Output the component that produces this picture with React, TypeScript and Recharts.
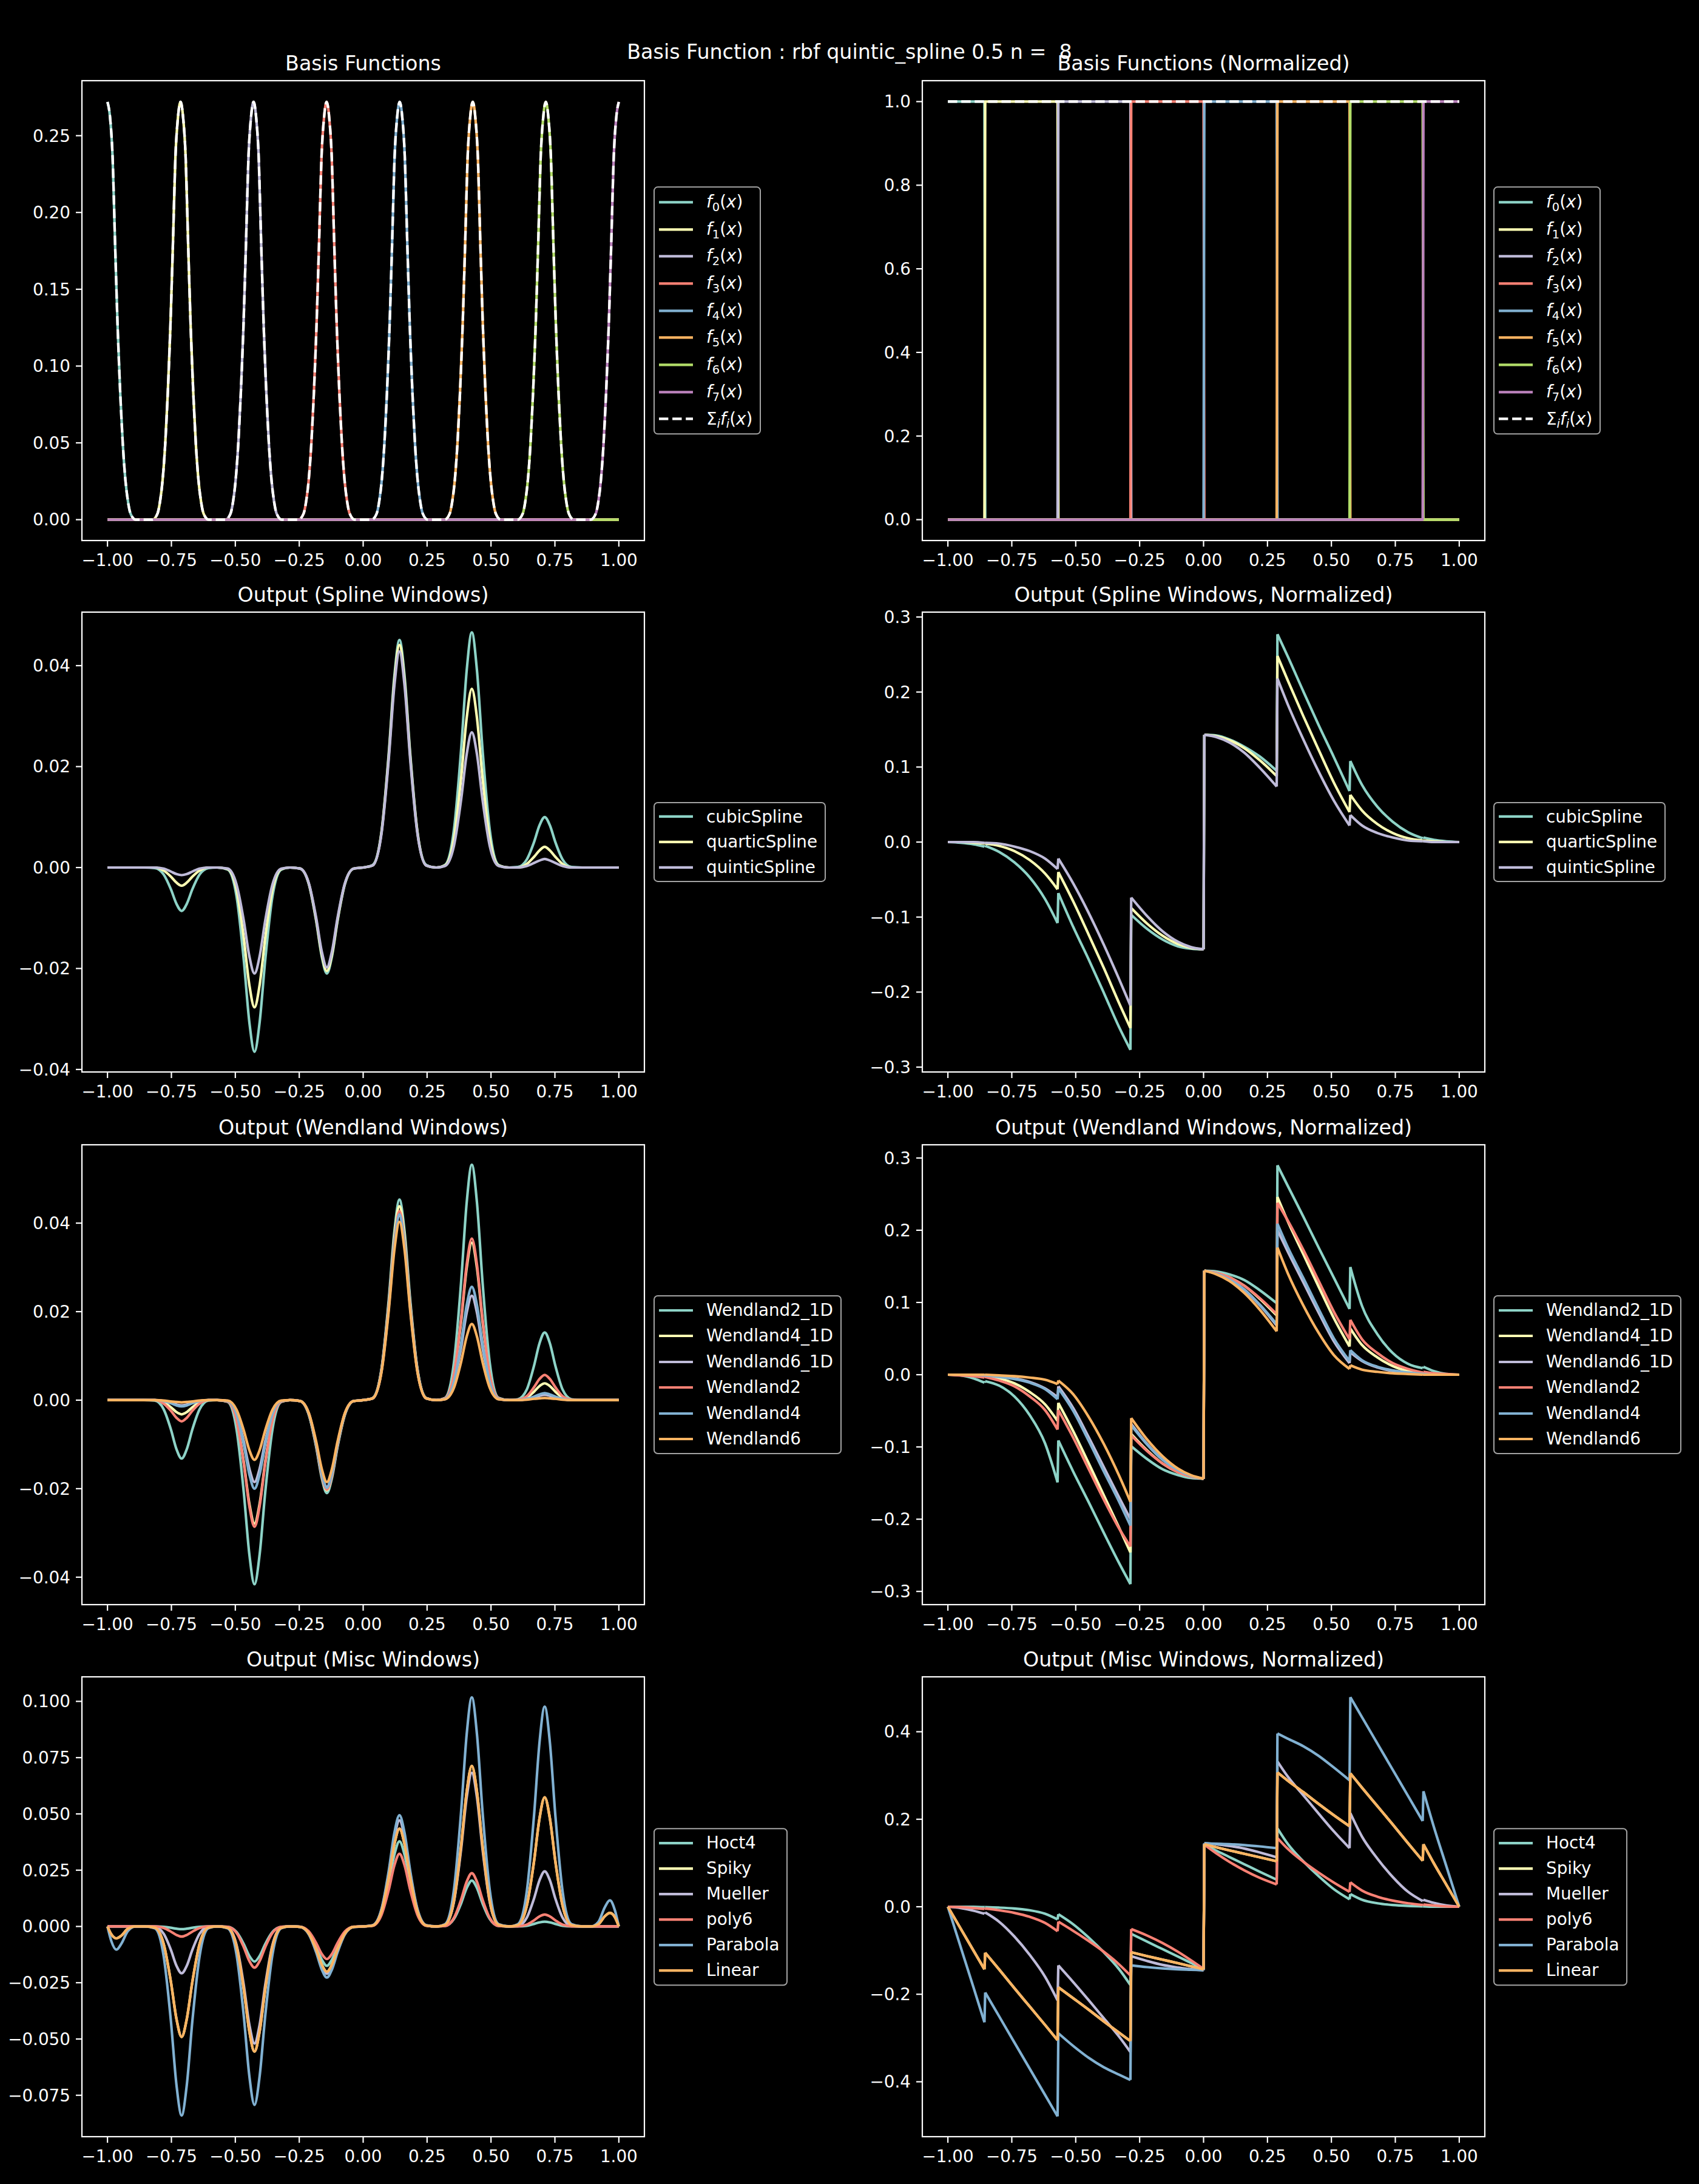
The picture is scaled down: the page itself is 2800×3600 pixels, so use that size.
import React from 'react';
import { LineChart, Line, XAxis, YAxis } from 'recharts';

const FONT = '"DejaVu Sans", "Liberation Sans", sans-serif';
const TICK_FS = 27.8;
const TITLE_FS = 33.3;
const LW = 4.2;
const colors = ['#8dd3c7', '#feffb3', '#bfbbd9', '#fa8174', '#81b1d2', '#fdb462', '#b3de69', '#bc82bd'];

// ---- axes ticks ----
const xTicks = [-1, -0.75, -0.5, -0.25, 0, 0.25, 0.5, 0.75, 1];
const xTickLabels = ['−1.00', '−0.75', '−0.50', '−0.25', '0.00', '0.25', '0.50', '0.75', '1.00'];

const basisTicks = [0, 0.05, 0.1, 0.15, 0.2, 0.25];
const basisTickLabels = ['0.00', '0.05', '0.10', '0.15', '0.20', '0.25'];
const unitTicks = [0, 0.2, 0.4, 0.6, 0.8, 1];
const unitTickLabels = ['0.0', '0.2', '0.4', '0.6', '0.8', '1.0'];
const smallTicks = [-0.04, -0.02, 0, 0.02, 0.04];
const smallTickLabels = ['−0.04', '−0.02', '0.00', '0.02', '0.04'];
const normTicks = [-0.3, -0.2, -0.1, 0, 0.1, 0.2, 0.3];
const normTickLabels = ['−0.3', '−0.2', '−0.1', '0.0', '0.1', '0.2', '0.3'];
const miscTicks = [-0.075, -0.05, -0.025, 0, 0.025, 0.05, 0.075, 0.1];
const miscTickLabels = ['−0.075', '−0.050', '−0.025', '0.000', '0.025', '0.050', '0.075', '0.100'];
const miscNormTicks = [-0.4, -0.2, 0, 0.2, 0.4];
const miscNormTickLabels = ['−0.4', '−0.2', '0.0', '0.2', '0.4'];

// ---- basis functions ----
const basisCenters = [-1, -0.7143, -0.4286, -0.1429, 0.1429, 0.4286, 0.7143, 1];
const basisOffsets = [-0.11, -0.09, -0.08, -0.07, -0.06, -0.05, -0.04, -0.03, -0.02, -0.01, 0,
  0.01, 0.02, 0.03, 0.04, 0.05, 0.06, 0.07, 0.08, 0.09, 0.11];
const basisProfile = [0, 0.004, 0.012, 0.026, 0.049, 0.082, 0.124, 0.178, 0.236, 0.262, 0.272,
  0.262, 0.236, 0.178, 0.124, 0.082, 0.049, 0.026, 0.012, 0.004, 0];

// ---- normalized grid (cells split at the midpoints) ----
const normXs = [
  -1, -0.95, -0.9, -0.857,
  -0.854, -0.8, -0.74, -0.68, -0.62, -0.571,
  -0.568, -0.51, -0.45, -0.39, -0.33, -0.286,
  -0.283, -0.22, -0.16, -0.1, -0.05, 0,
  0.003, 0.05, 0.1, 0.16, 0.22, 0.286,
  0.289, 0.33, 0.39, 0.45, 0.51, 0.571,
  0.574, 0.62, 0.68, 0.74, 0.8, 0.857,
  0.86, 0.9, 0.95, 1,
];
const normCells = [
  0, 0, 0, 0,
  1, 1, 1, 1, 1, 1,
  2, 2, 2, 2, 2, 2,
  3, 3, 3, 3, 3, 3,
  4, 4, 4, 4, 4, 4,
  5, 5, 5, 5, 5, 5,
  6, 6, 6, 6, 6, 6,
  7, 7, 7, 7,
];

// ---- output grid ----
const outXs = [
  -1, -0.985, -0.965, -0.945, -0.92, -0.89, -0.857,
  -0.815, -0.78, -0.752, -0.73, -0.71, -0.69, -0.668, -0.64, -0.605, -0.571,
  -0.53, -0.495, -0.467, -0.445, -0.425, -0.405, -0.383, -0.355, -0.32, -0.286,
  -0.247, -0.212, -0.184, -0.162, -0.142, -0.122, -0.1, -0.072, -0.037, 0,
  0.037, 0.072, 0.1, 0.122, 0.142, 0.162, 0.184, 0.212, 0.247, 0.286,
  0.32, 0.355, 0.383, 0.405, 0.425, 0.445, 0.467, 0.495, 0.53, 0.571,
  0.605, 0.64, 0.668, 0.69, 0.71, 0.73, 0.752, 0.78, 0.815, 0.857,
  0.89, 0.92, 0.945, 0.965, 0.985, 1,
];

// Spline windows
const cubicOut = [
  0, 0, 0, 0, 0, 0, 0,
  -0.0001, -0.0014, -0.0043, -0.0072, -0.0086, -0.0072, -0.0043, -0.0014, -0.0001, 0,
  -0.0004, -0.0058, -0.0183, -0.0307, -0.0365, -0.0307, -0.0183, -0.0058, -0.0004, 0,
  -0.0002, -0.0034, -0.0105, -0.0176, -0.021, -0.0176, -0.0105, -0.0034, -0.0002, 0,
  0.0005, 0.0072, 0.0226, 0.0379, 0.0451, 0.0379, 0.0226, 0.0072, 0.0005, 0,
  0.0005, 0.0075, 0.0233, 0.0391, 0.0466, 0.0391, 0.0233, 0.0075, 0.0005, 0,
  0.0001, 0.0016, 0.005, 0.0084, 0.01, 0.0084, 0.005, 0.0016, 0.0001, 0,
  0, 0, 0, 0, 0, 0,
];
const quarticOut = [
  0, 0, 0, 0, 0, 0, 0,
  0, -0.0006, -0.0018, -0.003, -0.0036, -0.003, -0.0018, -0.0006, 0, 0,
  -0.0003, -0.0044, -0.0139, -0.0233, -0.0277, -0.0233, -0.0139, -0.0044, -0.0003, 0,
  -0.0002, -0.0033, -0.0103, -0.0172, -0.0205, -0.0172, -0.0103, -0.0033, -0.0002, 0,
  0.0004, 0.0071, 0.0221, 0.037, 0.0441, 0.037, 0.0221, 0.0071, 0.0004, 0,
  0.0004, 0.0057, 0.0177, 0.0297, 0.0354, 0.0297, 0.0177, 0.0057, 0.0004, 0,
  0, 0.0007, 0.0021, 0.0034, 0.0041, 0.0034, 0.0021, 0.0007, 0, 0,
  0, 0, 0, 0, 0, 0,
];
const quinticOut = [
  0, 0, 0, 0, 0, 0, 0,
  0, -0.0002, -0.0008, -0.0013, -0.0015, -0.0013, -0.0008, -0.0002, 0, 0,
  -0.0002, -0.0034, -0.0105, -0.0176, -0.021, -0.0176, -0.0105, -0.0034, -0.0002, 0,
  -0.0002, -0.0032, -0.0099, -0.0166, -0.0198, -0.0166, -0.0099, -0.0032, -0.0002, 0,
  0.0004, 0.0068, 0.0214, 0.036, 0.0428, 0.036, 0.0214, 0.0068, 0.0004, 0,
  0.0003, 0.0043, 0.0134, 0.0225, 0.0268, 0.0225, 0.0134, 0.0043, 0.0003, 0,
  0, 0.0003, 0.0009, 0.0014, 0.0017, 0.0014, 0.0009, 0.0003, 0, 0,
  0, 0, 0, 0, 0, 0,
];

// Wendland windows
const w2dOut = [
  0, 0, 0, 0, 0, 0, 0,
  -0.0001, -0.0021, -0.0066, -0.0111, -0.0132, -0.0111, -0.0066, -0.0021, -0.0001, 0,
  -0.0004, -0.0067, -0.0208, -0.0349, -0.0416, -0.0349, -0.0208, -0.0067, -0.0004, 0,
  -0.0002, -0.0034, -0.0105, -0.0176, -0.021, -0.0176, -0.0105, -0.0034, -0.0002, 0,
  0.0005, 0.0072, 0.0227, 0.0381, 0.0453, 0.0381, 0.0227, 0.0072, 0.0005, 0,
  0.0005, 0.0085, 0.0266, 0.0447, 0.0532, 0.0447, 0.0266, 0.0085, 0.0005, 0,
  0.0002, 0.0024, 0.0077, 0.0129, 0.0153, 0.0129, 0.0077, 0.0024, 0.0002, 0,
  0, 0, 0, 0, 0, 0,
];
const w4dOut = [
  0, 0, 0, 0, 0, 0, 0,
  0, -0.0005, -0.0016, -0.0027, -0.0032, -0.0027, -0.0016, -0.0005, 0, 0,
  -0.0003, -0.0045, -0.014, -0.0234, -0.0279, -0.0234, -0.014, -0.0045, -0.0003, 0,
  -0.0002, -0.0033, -0.0102, -0.0171, -0.0204, -0.0171, -0.0102, -0.0033, -0.0002, 0,
  0.0004, 0.007, 0.0219, 0.0368, 0.0438, 0.0368, 0.0219, 0.007, 0.0004, 0,
  0.0004, 0.0057, 0.0178, 0.0299, 0.0356, 0.0299, 0.0178, 0.0057, 0.0004, 0,
  0, 0.0006, 0.0019, 0.0032, 0.0038, 0.0032, 0.0019, 0.0006, 0, 0,
  0, 0, 0, 0, 0, 0,
];
const w6dOut = [
  0, 0, 0, 0, 0, 0, 0,
  0, -0.0002, -0.0006, -0.001, -0.0012, -0.001, -0.0006, -0.0002, 0, 0,
  -0.0002, -0.003, -0.0093, -0.0155, -0.0185, -0.0155, -0.0093, -0.003, -0.0002, 0,
  -0.0002, -0.0031, -0.0098, -0.0165, -0.0196, -0.0165, -0.0098, -0.0031, -0.0002, 0,
  0.0004, 0.0067, 0.0209, 0.035, 0.0417, 0.035, 0.0209, 0.0067, 0.0004, 0,
  0.0002, 0.0038, 0.0118, 0.0198, 0.0236, 0.0198, 0.0118, 0.0038, 0.0002, 0,
  0, 0.0002, 0.0006, 0.001, 0.0012, 0.001, 0.0006, 0.0002, 0, 0,
  0, 0, 0, 0, 0, 0,
];
const w2Out = [
  0, 0, 0, 0, 0, 0, 0,
  0, -0.0008, -0.0024, -0.004, -0.0048, -0.004, -0.0024, -0.0008, 0, 0,
  -0.0003, -0.0046, -0.0143, -0.024, -0.0286, -0.024, -0.0143, -0.0046, -0.0003, 0,
  -0.0002, -0.0032, -0.0101, -0.017, -0.0202, -0.017, -0.0101, -0.0032, -0.0002, 0,
  0.0004, 0.0068, 0.0214, 0.0359, 0.0427, 0.0359, 0.0214, 0.0068, 0.0004, 0,
  0.0004, 0.0058, 0.0183, 0.0307, 0.0365, 0.0307, 0.0183, 0.0058, 0.0004, 0,
  0.0001, 0.0009, 0.0029, 0.0048, 0.0057, 0.0048, 0.0029, 0.0009, 0.0001, 0,
  0, 0, 0, 0, 0, 0,
];
const w4Out = [
  0, 0, 0, 0, 0, 0, 0,
  0, -0.0002, -0.0007, -0.0012, -0.0014, -0.0012, -0.0007, -0.0002, 0, 0,
  -0.0002, -0.0032, -0.01, -0.0168, -0.02, -0.0168, -0.01, -0.0032, -0.0002, 0,
  -0.0002, -0.0032, -0.0099, -0.0166, -0.0198, -0.0166, -0.0099, -0.0032, -0.0002, 0,
  0.0004, 0.0067, 0.021, 0.0353, 0.042, 0.0353, 0.021, 0.0067, 0.0004, 0,
  0.0003, 0.0041, 0.0128, 0.0215, 0.0256, 0.0215, 0.0128, 0.0041, 0.0003, 0,
  0, 0.0003, 0.0008, 0.0013, 0.0016, 0.0013, 0.0008, 0.0003, 0, 0,
  0, 0, 0, 0, 0, 0,
];
const w6Out = [
  0, 0, 0, 0, 0, 0, 0,
  0, -0.0001, -0.0003, -0.0004, -0.0005, -0.0004, -0.0003, -0.0001, 0, 0,
  -0.0001, -0.0022, -0.0068, -0.0113, -0.0135, -0.0113, -0.0068, -0.0022, -0.0001, 0,
  -0.0002, -0.003, -0.0093, -0.0155, -0.0185, -0.0155, -0.0093, -0.003, -0.0002, 0,
  0.0004, 0.0064, 0.0202, 0.0339, 0.0403, 0.0339, 0.0202, 0.0064, 0.0004, 0,
  0.0002, 0.0028, 0.0086, 0.0144, 0.0172, 0.0144, 0.0086, 0.0028, 0.0002, 0,
  0, 0.0001, 0.0003, 0.0004, 0.0005, 0.0004, 0.0003, 0.0001, 0, 0,
  0, 0, 0, 0, 0, 0,
];

// Misc windows
const hoct4Out = [
  0, 0, 0, 0, 0, 0, 0,
  0, -0.0002, -0.0006, -0.001, -0.0012, -0.001, -0.0006, -0.0002, 0, 0,
  -0.0002, -0.0025, -0.0078, -0.0131, -0.0156, -0.0131, -0.0078, -0.0025, -0.0002, 0,
  -0.0002, -0.0028, -0.0088, -0.0147, -0.0175, -0.0147, -0.0088, -0.0028, -0.0002, 0,
  0.0004, 0.006, 0.0189, 0.0318, 0.0378, 0.0318, 0.0189, 0.006, 0.0004, 0,
  0.0002, 0.0033, 0.0102, 0.0171, 0.0204, 0.0171, 0.0102, 0.0033, 0.0002, 0,
  0, 0.0003, 0.0011, 0.0018, 0.0021, 0.0018, 0.0011, 0.0003, 0, 0,
  0, 0, 0, 0, 0, 0,
];
const linearOut = [
  0, -0.0035, -0.0053, -0.004, -0.001, 0, 0,
  -0.0005, -0.0079, -0.0246, -0.0412, -0.0491, -0.0412, -0.0246, -0.0079, -0.0005, 0,
  -0.0006, -0.0089, -0.0278, -0.0467, -0.0556, -0.0467, -0.0278, -0.0089, -0.0006, 0,
  -0.0002, -0.0032, -0.0101, -0.0169, -0.0201, -0.0169, -0.0101, -0.0032, -0.0002, 0,
  0.0004, 0.0069, 0.0217, 0.0365, 0.0434, 0.0365, 0.0217, 0.0069, 0.0004, 0,
  0.0007, 0.0114, 0.0357, 0.0599, 0.0713, 0.0599, 0.0357, 0.0114, 0.0007, 0,
  0.0006, 0.0092, 0.0287, 0.0482, 0.0574, 0.0482, 0.0287, 0.0092, 0.0006, 0,
  0, 0.001, 0.0045, 0.006, 0.004, 0,
];
const spikyOut = linearOut; // hidden under Linear in the picture
const muellerOut = [
  0, 0, 0, 0, 0, 0, 0,
  -0.0002, -0.0033, -0.0104, -0.0175, -0.0208, -0.0175, -0.0104, -0.0033, -0.0002, 0,
  -0.0005, -0.0083, -0.026, -0.0437, -0.052, -0.0437, -0.026, -0.0083, -0.0005, 0,
  -0.0002, -0.0034, -0.0105, -0.0176, -0.021, -0.0176, -0.0105, -0.0034, -0.0002, 0,
  0.0005, 0.0075, 0.0236, 0.0396, 0.0471, 0.0396, 0.0236, 0.0075, 0.0005, 0,
  0.0007, 0.0109, 0.0342, 0.0574, 0.0683, 0.0574, 0.0342, 0.0109, 0.0007, 0,
  0.0002, 0.0039, 0.0123, 0.0206, 0.0245, 0.0206, 0.0123, 0.0039, 0.0002, 0,
  0, 0, 0, 0, 0, 0,
];
const poly6Out = [
  0, 0, 0, 0, 0, 0, 0,
  0, -0.0007, -0.0023, -0.0038, -0.0045, -0.0038, -0.0023, -0.0007, 0, 0,
  -0.0002, -0.0029, -0.0092, -0.0154, -0.0183, -0.0154, -0.0092, -0.0029, -0.0002, 0,
  -0.0001, -0.0023, -0.0073, -0.0122, -0.0145, -0.0122, -0.0073, -0.0023, -0.0001, 0,
  0.0003, 0.0052, 0.0162, 0.0271, 0.0323, 0.0271, 0.0162, 0.0052, 0.0003, 0,
  0.0002, 0.0038, 0.0119, 0.0199, 0.0237, 0.0199, 0.0119, 0.0038, 0.0002, 0,
  0.0001, 0.0008, 0.0027, 0.0045, 0.0053, 0.0045, 0.0027, 0.0008, 0.0001, 0,
  0, 0, 0, 0, 0, 0,
];
const parabolaOut = [
  0, -0.0065, -0.0103, -0.0075, -0.002, 0, 0,
  -0.0008, -0.0134, -0.042, -0.0706, -0.084, -0.0706, -0.042, -0.0134, -0.0008, 0,
  -0.0008, -0.0127, -0.0397, -0.0666, -0.0793, -0.0666, -0.0397, -0.0127, -0.0008, 0,
  -0.0002, -0.0036, -0.0114, -0.0191, -0.0227, -0.0191, -0.0114, -0.0036, -0.0002, 0,
  0.0005, 0.0079, 0.0247, 0.0415, 0.0494, 0.0415, 0.0247, 0.0079, 0.0005, 0,
  0.001, 0.0163, 0.0509, 0.0855, 0.1018, 0.0855, 0.0509, 0.0163, 0.001, 0,
  0.001, 0.0156, 0.0489, 0.0821, 0.0977, 0.0821, 0.0489, 0.0156, 0.001, 0,
  0, 0.002, 0.0085, 0.0116, 0.007, 0,
];

// ---- normalized outputs (on normXs) ----
const cubicNorm = [
  0, -0.001, -0.003, -0.006,
  -0.005, -0.013, -0.027, -0.047, -0.076, -0.108,
  -0.068, -0.113, -0.156, -0.201, -0.247, -0.277,
  -0.097, -0.116, -0.13, -0.139, -0.142, -0.143,
  0.143, 0.142, 0.137, 0.127, 0.114, 0.095,
  0.277, 0.247, 0.201, 0.156, 0.113, 0.068,
  0.108, 0.076, 0.047, 0.027, 0.013, 0.005,
  0.006, 0.003, 0.001, 0,
];
const quarticNorm = [
  0, 0, -0.001, -0.002,
  -0.002, -0.005, -0.012, -0.024, -0.042, -0.063,
  -0.04, -0.079, -0.123, -0.168, -0.215, -0.248,
  -0.088, -0.109, -0.125, -0.136, -0.141, -0.143,
  0.143, 0.141, 0.136, 0.125, 0.109, 0.088,
  0.248, 0.215, 0.168, 0.123, 0.079, 0.04,
  0.063, 0.042, 0.024, 0.012, 0.005, 0.002,
  0.002, 0.001, 0, 0,
];
const quinticNorm = [
  0, 0, 0, -0.001,
  -0.001, -0.002, -0.006, -0.012, -0.022, -0.036,
  -0.022, -0.055, -0.094, -0.137, -0.183, -0.218,
  -0.074, -0.099, -0.119, -0.133, -0.14, -0.143,
  0.143, 0.14, 0.133, 0.119, 0.099, 0.074,
  0.218, 0.183, 0.137, 0.094, 0.055, 0.022,
  0.036, 0.022, 0.012, 0.006, 0.002, 0.001,
  0.001, 0, 0, 0,
];

const w2dNorm = [
  0, -0.001, -0.005, -0.011,
  -0.009, -0.015, -0.03, -0.056, -0.095, -0.149,
  -0.091, -0.134, -0.176, -0.219, -0.261, -0.29,
  -0.099, -0.117, -0.131, -0.139, -0.143, -0.144,
  0.144, 0.143, 0.139, 0.131, 0.117, 0.099,
  0.29, 0.261, 0.219, 0.176, 0.134, 0.091,
  0.149, 0.095, 0.056, 0.03, 0.015, 0.009,
  0.011, 0.005, 0.001, 0,
];
const w4dNorm = [
  0, 0, -0.001, -0.002,
  -0.002, -0.005, -0.012, -0.024, -0.041, -0.064,
  -0.039, -0.078, -0.122, -0.167, -0.212, -0.246,
  -0.082, -0.105, -0.123, -0.135, -0.141, -0.144,
  0.144, 0.141, 0.135, 0.123, 0.105, 0.082,
  0.246, 0.212, 0.167, 0.122, 0.078, 0.039,
  0.064, 0.041, 0.024, 0.012, 0.005, 0.002,
  0.002, 0.001, 0, 0,
];
const w6dNorm = [
  0, 0, 0, -0.001,
  -0.001, -0.002, -0.005, -0.01, -0.019, -0.031,
  -0.016, -0.046, -0.086, -0.128, -0.17, -0.2,
  -0.068, -0.096, -0.117, -0.132, -0.14, -0.144,
  0.144, 0.14, 0.132, 0.117, 0.096, 0.068,
  0.2, 0.17, 0.128, 0.086, 0.046, 0.016,
  0.031, 0.019, 0.01, 0.005, 0.002, 0.001,
  0.001, 0, 0, 0,
];
const w2Norm = [
  0, -0.001, -0.002, -0.004,
  -0.003, -0.008, -0.016, -0.03, -0.049, -0.076,
  -0.049, -0.087, -0.13, -0.173, -0.213, -0.238,
  -0.084, -0.106, -0.123, -0.135, -0.141, -0.144,
  0.144, 0.141, 0.135, 0.123, 0.106, 0.084,
  0.238, 0.213, 0.173, 0.13, 0.087, 0.049,
  0.076, 0.049, 0.03, 0.016, 0.008, 0.003,
  0.004, 0.002, 0.001, 0,
];
const w4Norm = [
  0, 0, 0, -0.001,
  -0.001, -0.003, -0.006, -0.011, -0.02, -0.034,
  -0.019, -0.05, -0.091, -0.134, -0.176, -0.209,
  -0.07, -0.097, -0.118, -0.132, -0.14, -0.144,
  0.144, 0.14, 0.132, 0.118, 0.097, 0.07,
  0.209, 0.176, 0.134, 0.091, 0.05, 0.019,
  0.034, 0.02, 0.011, 0.006, 0.003, 0.001,
  0.001, 0, 0, 0,
];
const w6Norm = [
  0, 0, 0, 0,
  0, -0.001, -0.002, -0.004, -0.007, -0.013,
  -0.008, -0.027, -0.058, -0.096, -0.14, -0.176,
  -0.06, -0.09, -0.113, -0.13, -0.139, -0.144,
  0.144, 0.139, 0.13, 0.113, 0.09, 0.06,
  0.176, 0.14, 0.096, 0.058, 0.027, 0.008,
  0.013, 0.007, 0.004, 0.002, 0.001, 0,
  0, 0, 0, 0,
];

const hoct4Norm = [
  0, 0, 0, -0.001,
  -0.001, -0.002, -0.004, -0.008, -0.016, -0.029,
  -0.017, -0.04, -0.07, -0.104, -0.143, -0.179,
  -0.062, -0.08, -0.097, -0.114, -0.128, -0.142,
  0.142, 0.128, 0.114, 0.097, 0.08, 0.062,
  0.179, 0.143, 0.104, 0.07, 0.04, 0.017,
  0.029, 0.016, 0.008, 0.004, 0.002, 0.001,
  0.001, 0, 0, 0,
];
const linearNorm = [
  0, -0.05, -0.1, -0.143,
  -0.105, -0.143, -0.186, -0.228, -0.27, -0.305,
  -0.184, -0.209, -0.235, -0.262, -0.288, -0.307,
  -0.104, -0.113, -0.121, -0.129, -0.136, -0.143,
  0.143, 0.136, 0.129, 0.121, 0.113, 0.104,
  0.307, 0.288, 0.262, 0.235, 0.209, 0.184,
  0.305, 0.272, 0.23, 0.188, 0.145, 0.105,
  0.143, 0.1, 0.05, 0,
];
const spikyNorm = linearNorm; // hidden under Linear in the picture
const muellerNorm = [
  0, -0.003, -0.009, -0.016,
  -0.013, -0.034, -0.068, -0.11, -0.16, -0.214,
  -0.134, -0.172, -0.213, -0.255, -0.297, -0.332,
  -0.113, -0.124, -0.133, -0.139, -0.143, -0.145,
  0.145, 0.143, 0.139, 0.133, 0.124, 0.113,
  0.332, 0.297, 0.255, 0.213, 0.172, 0.134,
  0.214, 0.16, 0.11, 0.068, 0.034, 0.013,
  0.016, 0.009, 0.003, 0,
];
const poly6Norm = [
  0, -0.001, -0.003, -0.005,
  -0.004, -0.008, -0.014, -0.023, -0.037, -0.056,
  -0.034, -0.055, -0.078, -0.103, -0.132, -0.157,
  -0.051, -0.066, -0.083, -0.103, -0.122, -0.142,
  0.142, 0.122, 0.103, 0.083, 0.066, 0.051,
  0.157, 0.132, 0.103, 0.078, 0.055, 0.034,
  0.056, 0.037, 0.023, 0.014, 0.008, 0.004,
  0.005, 0.003, 0.001, 0,
];
const parabolaNorm = [
  0, -0.092, -0.184, -0.264,
  -0.196, -0.25, -0.31, -0.37, -0.43, -0.479,
  -0.289, -0.318, -0.345, -0.367, -0.384, -0.396,
  -0.134, -0.138, -0.141, -0.143, -0.144, -0.145,
  0.145, 0.144, 0.143, 0.141, 0.138, 0.134,
  0.396, 0.384, 0.367, 0.345, 0.318, 0.289,
  0.479, 0.433, 0.373, 0.313, 0.253, 0.196,
  0.264, 0.184, 0.092, 0,
];

// ---- legend labels ----
const splineNames = ['cubicSpline', 'quarticSpline', 'quinticSpline'];
const wendlandNames = ['Wendland2_1D', 'Wendland4_1D', 'Wendland6_1D', 'Wendland2', 'Wendland4', 'Wendland6'];
const miscNames = ['Hoct4', 'Spiky', 'Mueller', 'poly6', 'Parabola', 'Linear'];

// ---- tables ----
type Row = Record<string, number | null>;
type LineSpec = { key: string; color: string; curve: 'monotone' | 'linear'; dashed?: boolean };
type LegendItem = { label: React.ReactNode; color: string; dashed?: boolean };

function basisTable(): Row[] {
  const rows: Row[] = [];
  basisCenters.forEach((c, k) => {
    basisOffsets.forEach((o, j) => {
      const x = Math.round((c + o) * 10000) / 10000;
      if (x < -1.00001 || x > 1.00001) return;
      const row: Row = { x };
      basisCenters.forEach((_, i) => { row['f' + i] = i === k ? basisProfile[j] : 0; });
      rows.push(row);
    });
  });
  rows.sort((a, b) => (a.x as number) - (b.x as number));
  rows.forEach((r) => { r.s = basisCenters.reduce((acc, _, i) => acc + (r['f' + i] as number), 0); });
  return rows;
}

function normBasisTable(): Row[] {
  return normXs.map((x, i) => {
    const row: Row = { x };
    basisCenters.forEach((_, k) => { row['f' + k] = normCells[i] === k ? 1 : 0; });
    row.s = basisCenters.reduce((acc, _, k) => acc + (row['f' + k] as number), 0);
    return row;
  });
}

function outTable(series: number[][]): Row[] {
  return outXs.map((x, i) => {
    const row: Row = { x };
    series.forEach((vals, k) => { row['s' + k] = vals[i]; });
    return row;
  });
}

// each cell is its own smooth piece; the jumps at the cell borders are straight segments
function normTable(series: number[][]): Row[] {
  return normXs.map((x, i) => {
    const row: Row = { x };
    const cell = normCells[i];
    const edge = (i > 0 && normCells[i - 1] !== cell) || (i + 1 < normXs.length && normCells[i + 1] !== cell);
    series.forEach((vals, k) => {
      row['s' + k + 'e'] = cell % 2 === 0 ? vals[i] : null;
      row['s' + k + 'o'] = cell % 2 === 1 ? vals[i] : null;
      row['s' + k + 'j'] = edge ? vals[i] : null;
    });
    return row;
  });
}

function outLines(n: number): LineSpec[] {
  return Array.from({ length: n }, (_, k) => ({ key: 's' + k, color: colors[k], curve: 'monotone' as const }));
}

function normLines(n: number): LineSpec[] {
  const out: LineSpec[] = [];
  for (let k = 0; k < n; k++) {
    out.push({ key: 's' + k + 'e', color: colors[k], curve: 'monotone' });
    out.push({ key: 's' + k + 'o', color: colors[k], curve: 'monotone' });
    out.push({ key: 's' + k + 'j', color: colors[k], curve: 'linear' });
  }
  return out;
}

const basisLines: LineSpec[] = [
  ...basisCenters.map((_, k) => ({ key: 'f' + k, color: colors[k], curve: 'monotone' as const })),
  { key: 's', color: '#ffffff', curve: 'monotone', dashed: true },
];
const normBasisLines: LineSpec[] = [
  ...basisCenters.map((_, k) => ({ key: 'f' + k, color: colors[k], curve: 'linear' as const })),
  { key: 's', color: '#ffffff', curve: 'linear', dashed: true },
];

const mathStyle: React.CSSProperties = { fontStyle: 'italic' };
const subStyle: React.CSSProperties = { fontSize: '0.7em', position: 'relative', top: '0.3em' };
const basisLegend: LegendItem[] = [
  ...basisCenters.map((_, k) => ({
    label: (
      <span>
        <span style={mathStyle}>f</span>
        <span style={subStyle}>{k}</span>(<span style={mathStyle}>x</span>)
      </span>
    ),
    color: colors[k],
  })),
  {
    label: (
      <span>
        Σ<span style={{ ...subStyle, fontStyle: 'italic' }}>i</span>
        <span style={mathStyle}>f</span>
        <span style={{ ...subStyle, fontStyle: 'italic' }}>i</span>(<span style={mathStyle}>x</span>)
      </span>
    ),
    color: '#ffffff',
    dashed: true,
  },
];
const namedLegend = (names: string[]): LegendItem[] => names.map((n, k) => ({ label: n, color: colors[k] }));

// ---- layout ----
const PAGE_W = 2800;
const PAGE_H = 3600;
const colLeft = [0, 1400];
const plotLeft = [135, 1520];
const plotW = 927;
const rowTop = [133, 1009, 1887, 2764];
const plotH = 758;
const legendLeft = [1077, 2461];

function tickText(ticks: number[], labels: string[]) {
  return (v: number) => {
    const i = ticks.findIndex((t) => Math.abs(t - v) < 1e-9);
    return i >= 0 ? labels[i] : String(v);
  };
}

function LegendBox({ items, left, centerY, rowH }: { items: LegendItem[]; left: number; centerY: number; rowH: number }) {
  return (
    <div
      style={{
        position: 'absolute', left, top: centerY, transform: 'translateY(-50%)',
        border: '2.8px solid #a3a3a3', borderRadius: 7, background: '#000',
        padding: '8.5px 12px 8.5px 7px', fontFamily: FONT, fontSize: TICK_FS, color: '#fff',
      }}
    >
      {items.map((it, i) => (
        <div key={i} style={{ display: 'flex', alignItems: 'center', height: rowH, marginTop: i ? 13.9 : 0 }}>
          <svg width={56} height={12} style={{ flex: 'none' }}>
            <line x1={0} x2={56} y1={6} y2={6} stroke={it.color} strokeWidth={LW} strokeDasharray={it.dashed ? '15.4 6.7' : undefined} />
          </svg>
          <span style={{ marginLeft: 22, whiteSpace: 'nowrap', lineHeight: 1 }}>{it.label}</span>
        </div>
      ))}
    </div>
  );
}

type PanelProps = {
  col: number; row: number; data: Row[]; lines: LineSpec[];
  yDomain: [number, number]; yTicks: number[]; yLabels: string[];
  legend: LegendItem[]; legendRowH: number;
};

function Panel({ col, row, data, lines, yDomain, yTicks, yLabels, legend, legendRowH }: PanelProps) {
  const yw = plotLeft[col] - colLeft[col];
  const right = 1400 - yw - plotW;
  const tickStyle = { fill: '#ffffff', fontSize: TICK_FS, fontFamily: FONT };
  const tickLine = { stroke: '#ffffff', strokeWidth: 2.2 };
  return (
    <>
      <div style={{ position: 'absolute', left: colLeft[col], top: rowTop[row] - 10 }}>
        <LineChart width={1400} height={10 + plotH + 80} data={data} margin={{ top: 10, right, bottom: 0, left: 0 }}>
          <XAxis
            dataKey="x" type="number" domain={[-1.1, 1.1]} allowDataOverflow ticks={xTicks} interval={0}
            tickFormatter={tickText(xTicks, xTickLabels)} height={80} axisLine={false}
            tickLine={tickLine} tickSize={10} tickMargin={12} tick={tickStyle}
          />
          <YAxis
            type="number" domain={yDomain} allowDataOverflow ticks={yTicks} interval={0}
            tickFormatter={tickText(yTicks, yLabels)} width={yw} axisLine={false}
            tickLine={tickLine} tickSize={10} tickMargin={9} tick={tickStyle}
          />
          {lines.map((l) => (
            <Line
              key={l.key} dataKey={l.key} type={l.curve} stroke={l.color} strokeWidth={LW}
              strokeDasharray={l.dashed ? '15.4 6.7' : undefined} dot={false} activeDot={false}
              isAnimationActive={false} connectNulls={false} strokeLinejoin="round"
            />
          ))}
        </LineChart>
      </div>
      <LegendBox items={legend} left={legendLeft[col]} centerY={rowTop[row] + plotH / 2} rowH={legendRowH} />
    </>
  );
}

const titles = [
  ['Basis Functions', 'Basis Functions (Normalized)'],
  ['Output (Spline Windows)', 'Output (Spline Windows, Normalized)'],
  ['Output (Wendland Windows)', 'Output (Wendland Windows, Normalized)'],
  ['Output (Misc Windows)', 'Output (Misc Windows, Normalized)'],
];
const suptitle = 'Basis Function : rbf quintic_spline 0.5 n =  8';

export default function App() {
  const splineOut = [cubicOut, quarticOut, quinticOut];
  const splineNorm = [cubicNorm, quarticNorm, quinticNorm];
  const wendOut = [w2dOut, w4dOut, w6dOut, w2Out, w4Out, w6Out];
  const wendNorm = [w2dNorm, w4dNorm, w6dNorm, w2Norm, w4Norm, w6Norm];
  const miscOut = [hoct4Out, spikyOut, muellerOut, poly6Out, parabolaOut, linearOut];
  const miscNorm = [hoct4Norm, spikyNorm, muellerNorm, poly6Norm, parabolaNorm, linearNorm];

  return (
    <div style={{ position: 'relative', width: PAGE_W, height: PAGE_H, background: '#000', overflow: 'hidden' }}>
      <style>{'body{margin:0;background:#000;}'}</style>
      <Panel col={0} row={0} data={basisTable()} lines={basisLines} yDomain={[-0.0136, 0.2858]}
        yTicks={basisTicks} yLabels={basisTickLabels} legend={basisLegend} legendRowH={30.8} />
      <Panel col={1} row={0} data={normBasisTable()} lines={normBasisLines} yDomain={[-0.05, 1.05]}
        yTicks={unitTicks} yLabels={unitTickLabels} legend={basisLegend} legendRowH={30.8} />
      <Panel col={0} row={1} data={outTable(splineOut)} lines={outLines(3)} yDomain={[-0.0405, 0.0506]}
        yTicks={smallTicks} yLabels={smallTickLabels} legend={namedLegend(splineNames)} legendRowH={27.8} />
      <Panel col={1} row={1} data={normTable(splineNorm)} lines={normLines(3)} yDomain={[-0.3065, 0.3065]}
        yTicks={normTicks} yLabels={normTickLabels} legend={namedLegend(splineNames)} legendRowH={27.8} />
      <Panel col={0} row={2} data={outTable(wendOut)} lines={outLines(6)} yDomain={[-0.0462, 0.0577]}
        yTicks={smallTicks} yLabels={smallTickLabels} legend={namedLegend(wendlandNames)} legendRowH={28.6} />
      <Panel col={1} row={2} data={normTable(wendNorm)} lines={normLines(6)} yDomain={[-0.3183, 0.3183]}
        yTicks={normTicks} yLabels={normTickLabels} legend={namedLegend(wendlandNames)} legendRowH={28.6} />
      <Panel col={0} row={3} data={outTable(miscOut)} lines={outLines(6)} yDomain={[-0.0934, 0.1109]}
        yTicks={miscTicks} yLabels={miscTickLabels} legend={namedLegend(miscNames)} legendRowH={28.2} />
      <Panel col={1} row={3} data={normTable(miscNorm)} lines={normLines(6)} yDomain={[-0.5255, 0.5255]}
        yTicks={miscNormTicks} yLabels={miscNormTickLabels} legend={namedLegend(miscNames)} legendRowH={28.2} />

      <svg width={PAGE_W} height={PAGE_H} style={{ position: 'absolute', left: 0, top: 0, pointerEvents: 'none' }}>
        {rowTop.map((t, r) =>
          plotLeft.map((l, c) => (
            <g key={r + '-' + c}>
              <rect x={l} y={t} width={plotW} height={plotH} fill="none" stroke="#ffffff" strokeWidth={2.2} />
              <text x={l + plotW / 2} y={t - 17} textAnchor="middle" fill="#ffffff" fontSize={TITLE_FS} fontFamily={FONT}>
                {titles[r][c]}
              </text>
            </g>
          ))
        )}
        <text x={1400} y={97} textAnchor="middle" fill="#ffffff" fontSize={TITLE_FS} fontFamily={FONT} style={{ whiteSpace: 'pre' }}>
          {suptitle}
        </text>
      </svg>
    </div>
  );
}
